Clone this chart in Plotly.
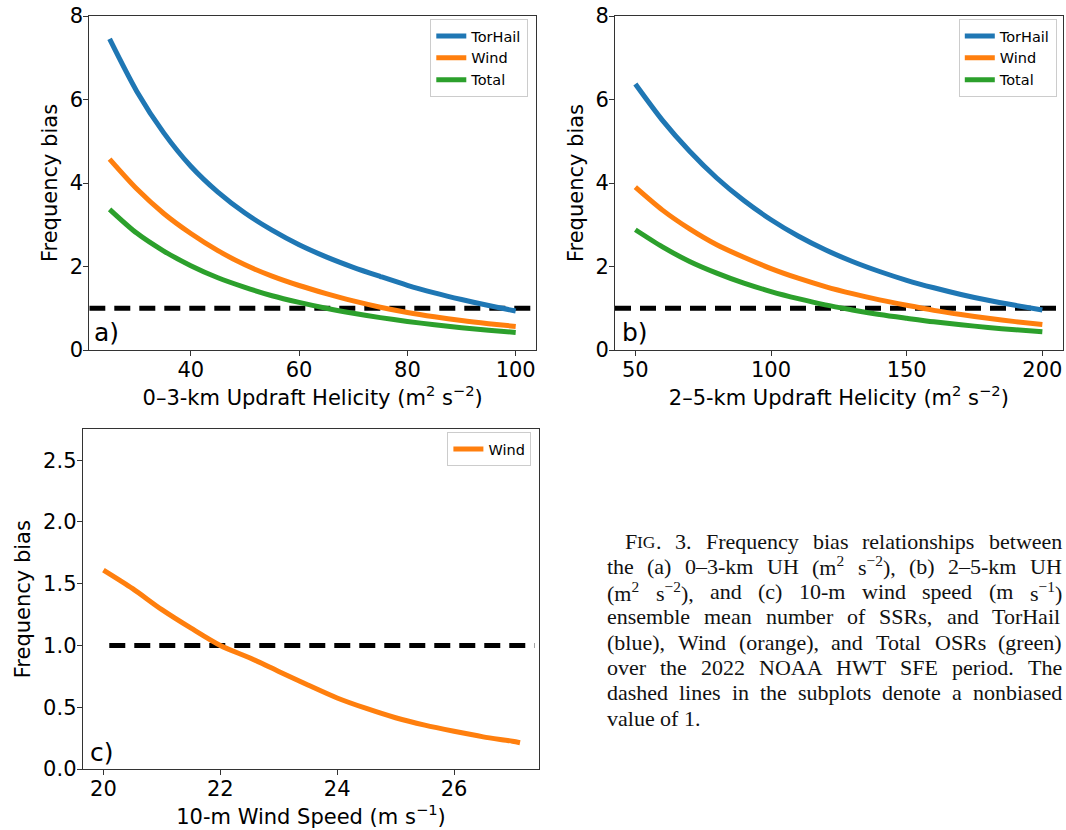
import plotly.graph_objects as go

# ---------------- data ----------------
uh03 = [25, 30, 35, 40, 45, 50, 55, 60, 65, 70, 75, 80, 85, 90, 95, 100]
a_torhail = [7.45, 6.2, 5.2, 4.4, 3.78, 3.28, 2.87, 2.52, 2.23, 1.98, 1.76, 1.55, 1.37, 1.21, 1.065, 0.935]
a_wind = [4.57, 3.86, 3.27, 2.79, 2.38, 2.04, 1.77, 1.545, 1.35, 1.175, 1.025, 0.9, 0.795, 0.705, 0.63, 0.565]
a_total = [3.37, 2.8, 2.37, 2.02, 1.73, 1.5, 1.3, 1.14, 1.0, 0.88, 0.775, 0.685, 0.605, 0.535, 0.475, 0.42]

uh25 = [50, 60, 70, 80, 90, 100, 110, 120, 130, 140, 150, 160, 170, 180, 190, 200]
b_torhail = [6.37, 5.5, 4.76, 4.12, 3.58, 3.12, 2.73, 2.4, 2.12, 1.88, 1.67, 1.49, 1.33, 1.19, 1.07, 0.96]
b_wind = [3.9, 3.35, 2.9, 2.52, 2.22, 1.95, 1.72, 1.52, 1.35, 1.2, 1.07, 0.95, 0.85, 0.76, 0.68, 0.61]
b_total = [2.88, 2.47, 2.12, 1.84, 1.6, 1.4, 1.23, 1.08, 0.96, 0.85, 0.76, 0.675, 0.605, 0.54, 0.485, 0.435]

ws10 = [20, 20.5, 21, 21.5, 22, 22.5, 23, 23.5, 24, 24.5, 25, 25.5, 26, 26.5, 27, 27.13]
c_wind = [1.61, 1.46, 1.29, 1.14, 1.0, 0.9, 0.79, 0.68, 0.575, 0.49, 0.415, 0.355, 0.305, 0.26, 0.225, 0.213]

unbiased = [1, 1]
ref_x_a = [21.25, 103.75]
ref_x_b = [42.5, 207.5]
ref_x_c = [20.1, 27.38]

series_names = ["TorHail", "Wind", "Total"]
colors = {"TorHail": "#1f77b4", "Wind": "#ff7f0e", "Total": "#2ca02c"}

xtitles = ["0–3-km Updraft Helicity (m<sup>2</sup> s<sup>−2</sup>)",
           "2–5-km Updraft Helicity (m<sup>2</sup> s<sup>−2</sup>)",
           "10-m Wind Speed (m s<sup>−1</sup>)"]
panel_labels = ["a)", "b)", "c)"]

caption_lines = [
    "F<sc>IG</sc>. 3. Frequency bias relationships between",
    "the (a) 0–3-km UH (m<sup>2</sup> s<sup>−2</sup>), (b) 2–5-km UH",
    "(m<sup>2</sup> s<sup>−2</sup>), and (c) 10-m wind speed (m s<sup>−1</sup>)",
    "ensemble mean number of SSRs, and TorHail",
    "(blue), Wind (orange), and Total OSRs (green)",
    "over the 2022 NOAA HWT SFE period. The",
    "dashed lines in the subplots denote a nonbiased",
    "value of 1.",
]

# ---------------- figure ----------------
W_, H_ = 1066, 830
FONT = "DejaVu Sans"

def px(x):
    return x / W_

def py(y):
    return 1 - y / H_

fig = go.Figure()

dash_style = dict(color="black", width=5, dash="16px,9px")
fig.add_trace(go.Scatter(x=ref_x_a, y=unbiased, mode="lines", line=dash_style,
                         showlegend=False, xaxis="x", yaxis="y", hoverinfo="skip"))
fig.add_trace(go.Scatter(x=ref_x_b, y=unbiased, mode="lines", line=dash_style,
                         showlegend=False, xaxis="x2", yaxis="y2", hoverinfo="skip"))
fig.add_trace(go.Scatter(x=ref_x_c, y=unbiased, mode="lines", line=dash_style,
                         showlegend=False, xaxis="x3", yaxis="y3", hoverinfo="skip"))

def curve_line(name):
    return dict(color=colors[name], width=5, shape="spline", smoothing=0.8)

for name, ys in zip(series_names, [a_torhail, a_wind, a_total]):
    fig.add_trace(go.Scatter(x=uh03, y=ys, mode="lines", name=name, line=curve_line(name),
                             xaxis="x", yaxis="y", legend="legend"))
for name, ys in zip(series_names, [b_torhail, b_wind, b_total]):
    fig.add_trace(go.Scatter(x=uh25, y=ys, mode="lines", name=name, line=curve_line(name),
                             xaxis="x2", yaxis="y2", legend="legend2"))
fig.add_trace(go.Scatter(x=ws10, y=c_wind, mode="lines", name="Wind", line=curve_line("Wind"),
                         xaxis="x3", yaxis="y3", legend="legend3"))

axis_common = dict(showline=True, linecolor="#333333", linewidth=1, mirror=True,
                   ticks="outside", ticklen=5, tickwidth=1, tickcolor="#333333",
                   showgrid=False, zeroline=False, automargin=False, ticklabelstandoff=-4,
                   tickfont=dict(family=FONT, size=21, color="black"))
title_font = dict(family=FONT, size=21, color="black")

dom_a_x = [px(89.3), px(536)]
dom_b_x = [px(615), px(1062.7)]
dom_c_x = [px(82.7), px(539.3)]
dom_ab_y = [py(350), py(16)]
dom_c_y = [py(769), py(429.3)]

fig.update_layout(
    width=W_, height=H_,
    margin=dict(l=0, r=0, t=0, b=0),
    paper_bgcolor="white", plot_bgcolor="white",
    font=dict(family=FONT, color="black"),
    xaxis=dict(axis_common, domain=dom_a_x, range=[21.25, 103.75], tickvals=[40, 60, 80, 100],
               anchor="y", title=dict(text=xtitles[0], font=title_font, standoff=6)),
    yaxis=dict(axis_common, domain=dom_ab_y, range=[0, 8], tickvals=[0, 2, 4, 6, 8],
               anchor="x", title=dict(text="Frequency bias", font=title_font, standoff=6)),
    xaxis2=dict(axis_common, domain=dom_b_x, range=[42.5, 207.5], tickvals=[50, 100, 150, 200],
                anchor="y2", title=dict(text=xtitles[1], font=title_font, standoff=6)),
    yaxis2=dict(axis_common, domain=dom_ab_y, range=[0, 8], tickvals=[0, 2, 4, 6, 8],
                anchor="x2", title=dict(text="Frequency bias", font=title_font, standoff=6)),
    xaxis3=dict(axis_common, domain=dom_c_x, range=[19.645, 27.46], tickvals=[20, 22, 24, 26],
                anchor="y3", title=dict(text=xtitles[2], font=title_font, standoff=6)),
    yaxis3=dict(axis_common, domain=dom_c_y, range=[0, 2.75], tickvals=[0, 0.5, 1, 1.5, 2, 2.5],
                tickformat=".1f", anchor="x3",
                title=dict(text="Frequency bias", font=title_font, standoff=6)),
)

legend_common = dict(xanchor="right", yanchor="top", bgcolor="white",
                     bordercolor="#cccccc", borderwidth=1, tracegroupgap=0, itemwidth=30,
                     font=dict(family=FONT, size=14.5, color="black"))
fig.update_layout(
    legend=dict(legend_common, x=px(528.3), y=py(19)),
    legend2=dict(legend_common, x=px(1056.8), y=py(19)),
    legend3=dict(legend_common, x=px(531.4), y=py(432)),
)

# panel labels
for lab, (lx, ly) in zip(panel_labels, [(94.3, 332.5), (621.7, 332.5), (90, 752.5)]):
    fig.add_annotation(text=lab, x=px(lx), y=py(ly), xref="paper", yref="paper",
                       xanchor="left", yanchor="middle", showarrow=False,
                       borderpad=0, borderwidth=0,
                       font=dict(family=FONT, size=25, color="black"))

# ---------------- caption (justified, word by word) ----------------
CAP_SIZE = 22
SC_SIZE = 17.5
TW = {" ": 250, "!": 333, "(": 333, ")": 333, ",": 250, "-": 333, ".": 250, ":": 278,
      "–": 500, "−": 564}
for d in "0123456789":
    TW[d] = 500
TW.update(dict(A=722, B=667, C=667, D=722, E=611, F=556, G=722, H=722, I=333, J=389, K=722,
               L=611, M=889, N=722, O=722, P=556, Q=722, R=667, S=556, T=611, U=722, V=722,
               W=944, X=722, Y=722, Z=611))
TW.update(dict(a=444, b=500, c=444, d=500, e=444, f=333, g=500, h=500, i=278, j=278, k=500,
               l=278, m=778, n=500, o=500, p=500, q=500, r=333, s=389, t=278, u=500, v=500,
               w=722, x=500, y=500, z=444))


def measure(s, size):
    total, scale, i = 0.0, 1.0, 0
    while i < len(s):
        for tag, sc in (("<sup>", 0.7), ("</sup>", 1.0)):
            if s.startswith(tag, i):
                scale = sc
                i += len(tag)
                break
        else:
            total += TW.get(s[i], 500) * scale
            i += 1
    return total * size / 1000.0


def segments(word):
    """split a word into (text, font size) pieces; <sc>..</sc> becomes small caps"""
    out = []
    rest = word
    while "<sc>" in rest:
        pre, tail = rest.split("<sc>", 1)
        sc, rest = tail.split("</sc>", 1)
        if pre:
            out.append((pre, CAP_SIZE))
        out.append((sc, SC_SIZE))
    if rest:
        out.append((rest, CAP_SIZE))
    return out


def word_width(word):
    return sum(measure(t, s) for t, s in segments(word))


cap_left, cap_right, cap_indent = 607.0, 1062.0, 625.0
cap_y = [541, 566.3, 591.6, 616.9, 642.1, 667.4, 692.7, 718]
for li, (line, yc) in enumerate(zip(caption_lines, cap_y)):
    words = line.split(" ")
    start = cap_indent if li == 0 else cap_left
    widths = [word_width(w) for w in words]
    if li == len(caption_lines) - 1 or len(words) == 1:
        gap = measure(" ", CAP_SIZE)
    else:
        gap = (cap_right - start - sum(widths)) / (len(words) - 1)
    xpos = start
    for w, wd in zip(words, widths):
        sx = xpos
        for txt, fs in segments(w):
            yoff = (CAP_SIZE - fs) * 0.33
            fig.add_annotation(text=txt, x=px(sx), y=py(yc + yoff), xref="paper", yref="paper",
                               xanchor="left", yanchor="middle", showarrow=False,
                               borderpad=0, borderwidth=0,
                               font=dict(family="Liberation Serif", size=fs, color="#111111"))
            sx += measure(txt, fs)
        xpos += wd + gap

fig.write_html("out.html")
